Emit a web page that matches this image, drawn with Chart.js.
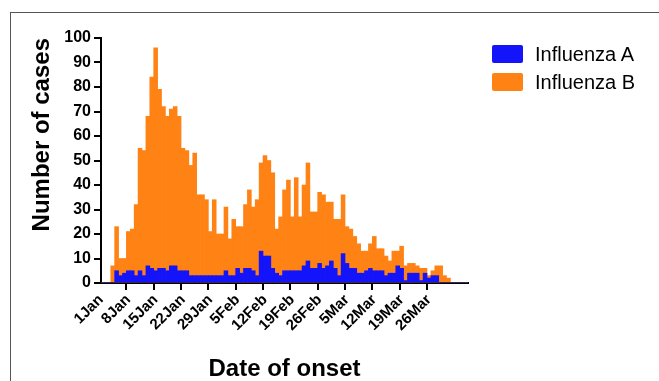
<!DOCTYPE html>
<html>
<head>
<meta charset="utf-8">
<script src="https://cdn.jsdelivr.net/npm/chart.js@4.4.0/dist/chart.umd.min.js"></script>
<style>
  html, body { margin: 0; padding: 0; background: #fff; }
  #wrap { position: relative; width: 659px; height: 381px; }
  #frame { position: absolute; left: 10px; top: 12px; right: 0; bottom: 0;
           border-left: 1px solid #555; border-top: 1px solid #555; pointer-events: none; }
  #legend { position: absolute; left: 492px; top: 45px;
            font-family: "Liberation Sans", Arial, sans-serif; font-size: 20px; color: #000; }
  #legend .item { display: flex; align-items: center; height: 18px; margin-bottom: 10px; }
  #legend .box { width: 31px; height: 18px; border-radius: 2px; margin-right: 12px; }
</style>
</head>
<body>
<div id="wrap">
  <canvas id="fluChart" width="659" height="381"></canvas>
  <div id="legend"></div>
  <div id="frame"></div>
</div>
<script>
// Daily cases, index 0 = 1 Jan
let influenzaA = [0, 0, 0, 0, 5, 3, 4, 5, 5, 3, 5, 3, 7, 6, 5, 6, 6, 5, 7, 7,
  5, 5, 5, 3, 3, 3, 3, 3, 3, 3, 3, 3, 5, 3, 3, 6, 4, 6, 6, 5,
  3, 13, 11, 11, 6, 4, 3, 5, 5, 5, 5, 5, 7, 9, 6, 6, 8, 6, 7, 9,
  6, 3, 12, 8, 6, 6, 4, 4, 5, 6, 5, 5, 5, 3, 4, 4, 7, 6, 1, 4,
  4, 4, 1, 4, 2, 3, 3, 0, 0, 0, 0, 0, 0, 0, 0];
let influenzaB = [0, 0, 0, 7, 23, 10, 10, 21, 22, 32, 55, 54, 68, 84, 96, 79, 72, 68, 71, 72,
  68, 55, 54, 48, 53, 36, 36, 34, 21, 34, 20, 20, 31, 18, 26, 23, 23, 32, 38, 31,
  34, 49, 52, 50, 45, 22, 27, 38, 42, 27, 43, 27, 40, 49, 29, 29, 37, 36, 33, 33,
  26, 26, 36, 23, 22, 19, 16, 13, 13, 16, 19, 14, 14, 11, 9, 13, 13, 15, 7, 8,
  8, 7, 6, 6, 3, 5, 7, 7, 3, 2, 0, 0, 0, 0, 0];
let tickLabels = ['1Jan', '8Jan', '15Jan', '22Jan', '29Jan', '5Feb', '12Feb', '19Feb',
  '26Feb', '5Mar', '12Mar', '19Mar', '26Mar'];

// one category per day
let monthNames = ['Jan', 'Feb', 'Mar', 'Apr'];
let monthLengths = [31, 28, 31, 30];
let days = [];
for (let m = 0; m < monthNames.length && days.length < influenzaB.length; m++) {
  for (let d = 1; d <= monthLengths[m] && days.length < influenzaB.length; d++) {
    days.push(d + monthNames[m]);
  }
}

let fontFamily = '"Liberation Sans", Arial, sans-serif';

let ctx = document.getElementById('fluChart').getContext('2d');
let fluChart = new Chart(ctx, {
  type: 'bar',
  data: {
    labels: days,
    datasets: [{
      label: 'Influenza A',
      data: influenzaA,
      backgroundColor: '#1414FA',
      borderWidth: 0,
      grouped: false,
      order: 0,
      barPercentage: 1,
      categoryPercentage: 1
    }, {
      label: 'Influenza B',
      data: influenzaB,
      backgroundColor: '#FF8214',
      borderWidth: 0,
      grouped: false,
      order: 1,
      barPercentage: 1,
      categoryPercentage: 1
    }]
  },
  options: {
    responsive: false,
    animation: false,
    layout: { padding: { left: 0, top: 38, right: 191, bottom: 0 } },
    plugins: {
      tooltip: { enabled: false },
      legend: { display: false }
    },
    scales: {
      x: {
        offset: false,
        grid: {
          drawOnChartArea: false,
          tickLength: 7,
          lineWidth: 2,
          tickColor: (c) => tickLabels.includes(days[c.index]) ? '#000' : 'rgba(0,0,0,0)'
        },
        border: { color: '#000', width: 2 },
        ticks: {
          autoSkip: false,
          maxRotation: 45,
          minRotation: 45,
          padding: 1,
          color: '#000',
          font: { family: fontFamily, size: 15, weight: 'bold' },
          callback: function (value) {
            let lab = this.getLabelForValue(value);
            return tickLabels.includes(lab) ? lab : '';
          }
        },
        title: {
          display: true,
          text: 'Date of onset',
          color: '#000',
          font: { family: fontFamily, size: 24, weight: 'bold', lineHeight: 1 },
          padding: { top: 0, bottom: 0 }
        },
        afterFit: (s) => { s.height = 98; }
      },
      y: {
        min: 0,
        max: 100,
        grid: { drawOnChartArea: false, tickLength: 7, lineWidth: 2, color: '#000' },
        border: { color: '#000', width: 2 },
        ticks: {
          stepSize: 10,
          padding: 3,
          color: '#000',
          font: { family: fontFamily, size: 16, weight: 'bold' }
        },
        title: {
          display: true,
          text: 'Number of cases',
          align: 'end',
          color: '#000',
          font: { family: fontFamily, size: 24, weight: 'bold', lineHeight: 1 },
          padding: { top: 30, bottom: 0 }
        },
        afterFit: (s) => { s.width = 101; }
      }
    }
  }
});

// html legend built from the datasets
let legendEl = document.getElementById('legend');
fluChart.data.datasets.forEach((ds) => {
  let item = document.createElement('div');
  item.className = 'item';
  let box = document.createElement('span');
  box.className = 'box';
  box.style.background = ds.backgroundColor;
  let txt = document.createElement('span');
  txt.textContent = ds.label;
  item.appendChild(box);
  item.appendChild(txt);
  legendEl.appendChild(item);
});
</script>
</body>
</html>
